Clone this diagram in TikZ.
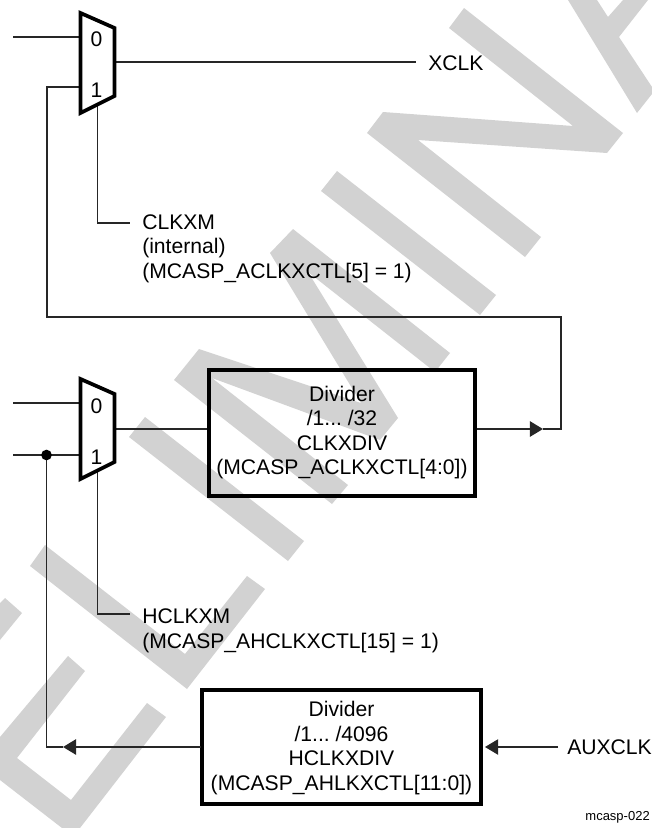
\documentclass[tikz,border=0pt]{standalone}
\usepackage{fontspec}
\setmainfont{Liberation Sans}
\usetikzlibrary{arrows.meta}
\tikzset{
  wm/.style={fill=wmgray,draw=none},
  wire/.style={draw=black!85,line width=1.1pt,line join=miter},
  thinwire/.style={draw=black!85,line width=0.8pt},
  muxbody/.style={draw=black,line width=2.8pt,line join=miter,fill=white},
  divbox/.style={draw=black,line width=3pt,align=center,inner sep=0pt,font=\lbl},
  lab/.style={inner sep=0pt,align=left,font=\lbl},
  arr/.style={-{Triangle[length=9.8pt,width=11.5pt]}},
}
\definecolor{wmgray}{HTML}{D2D2D2}
\newcommand{\lbl}{\fontsize{15.85pt}{18.3pt}\selectfont\frenchspacing}
\begin{document}
\begin{tikzpicture}[x=0.75pt,y=-0.75pt]
\useasboundingbox (0,0) rectangle (652,828);
% watermark
\fill[wm] (45,545)--(30,566)--(187,689)--(265,589)--(247,576)--(185,654)--cycle;
\fill[wm] (68,656)--(85,671)--(17,758)--(71,800)--(147,703)--(166,717)--(80,828)--(62,828)--(0,780)--(0,737)--cycle;
\fill[wm] (0,603)--(5,598)--(22,613)--(0,640)--cycle;
\fill[wm] (145,417)--(129,437)--(288,561)--(304,541)--cycle;
\fill[wm] (174,380)--(199,349)--(361,403)--(270,253)--(293,229)--(450,353)--(435,372)--(308,272)--(398,418)--(380,440)--(212,378)--(348,485)--(332,504)--cycle;
\fill[wm] (337,171)--(321,191)--(480,315)--(496,295)--cycle;
\fill[wm] (383,112)--(573,126)--(449,28)--(464,8)--(623,133)--(607,153)--(418,140)--(541,237)--(525,257)--(367,133)--cycle;
\fill[wm] (568,0)--(597,0)--(608,17)--(623,0)--(648,0)--(619,37)--(652,87)--(652,94)--(637,113)--cycle;
% coordinates
\coordinate (m1a) at (80.5,13);
\coordinate (m1b) at (114.5,28);
\coordinate (m1c) at (114.5,96);
\coordinate (m1d) at (80.5,113);
\coordinate (m2a) at (80.5,379);
\coordinate (m2b) at (114.5,394);
\coordinate (m2c) at (114.5,462);
\coordinate (m2d) at (80.5,479);
\coordinate (i10) at (13,37);
\coordinate (m1i0) at (80,37);
\coordinate (m1i1) at (80,87);
\coordinate (m1o) at (115,62);
\coordinate (xe) at (416,62);
\coordinate (m1s) at (97.5,106);
\coordinate (k1) at (97.5,223);
\coordinate (k1e) at (130,223);
\coordinate (fb1) at (47,87);
\coordinate (fb2) at (47,317);
\coordinate (fb3) at (561,317);
\coordinate (fb4) at (561,429);
\coordinate (tip1) at (543,429);
\coordinate (i20) at (13,403);
\coordinate (i21) at (13,455);
\coordinate (m2i0) at (80,403);
\coordinate (m2i1) at (80,455);
\coordinate (m2o) at (115,429);
\coordinate (m2s) at (97.5,472);
\coordinate (k2) at (97.5,614);
\coordinate (k2e) at (130,614);
\coordinate (d1o) at (477,429);
\coordinate (d1i) at (207,429);
\coordinate (d2o) at (201,747);
\coordinate (d2i) at (483,747);
\coordinate (tip2) at (63,747);
\coordinate (crn) at (46.5,747);
\coordinate (aux) at (558,747);
\coordinate (tip3) at (485,747);
% boxes
\node[divbox,minimum width=199.5pt,minimum height=94.5pt] (div1) at (342,433) {};
\node[lab,align=center] (div1t) at (342,432.5) {Divider\\/1... /32\\CLKXDIV\\(MCASP\_ACLKXCTL[4:0])};
\node[divbox,minimum width=209.25pt,minimum height=85.5pt] (div2) at (341.5,747) {};
\node[lab,align=center] (div2t) at (341.5,748) {Divider\\/1... /4096\\HCLKXDIV\\(MCASP\_AHLKXCTL[11:0])};
% wires
\draw[wire] (i10)--(m1i0);
\draw[thinwire] (m1o)--(xe);
\draw[thinwire] (m1s)--(k1)--(k1e);
\draw[wire] (m1i1)--(fb1)--(fb2)--(fb3)--(fb4)--(tip1);
\draw[wire,arr] (d1o)--(tip1);
\draw[wire] (i20)--(m2i0);
\draw[wire] (i21)--(m2i1);
\draw[thinwire] (m2o)--(d1i);
\draw[thinwire] (m2s)--(k2)--(k2e);
\draw[wire,line width=1.3pt,arr] (d2o)--(tip2);
\draw[wire] (tip2)--(crn)--(46.5,455);
\draw[thinwire,arr] (aux)--(tip3);
\node[circle,fill=black,inner sep=0pt,minimum size=8pt] (dot) at (46.5,455) {};
% muxes
\draw[muxbody] (m1a)--(m1b)--(m1c)--(m1d)--cycle;
\draw[muxbody] (m2a)--(m2b)--(m2c)--(m2d)--cycle;
\node[lab] (m1l0) at (96.5,39.5) {0};
\node[lab] (m1l1) at (96.5,90) {1};
\node[lab] (m2l0) at (96.5,406) {0};
\node[lab] (m2l1) at (96.5,457) {1};
% labels
\node[lab,anchor=west] (xclk) at (428,63) {XCLK};
\node[lab,anchor=west] (clkxm) at (142,248.5) {CLKXM\\(internal)\\(MCASP\_ACLKXCTL[5] = 1)};
\node[lab,anchor=west] (hclkxm) at (142,631) {HCLKXM\\(MCASP\_AHCLKXCTL[15] = 1)};
\node[lab,anchor=west] (auxclk) at (567,747) {AUXCLK};
\node[inner sep=0pt,anchor=east,font=\fontsize{9.75pt}{11pt}\selectfont] (tag) at (650,817) {mcasp-022};
\end{tikzpicture}
\end{document}
